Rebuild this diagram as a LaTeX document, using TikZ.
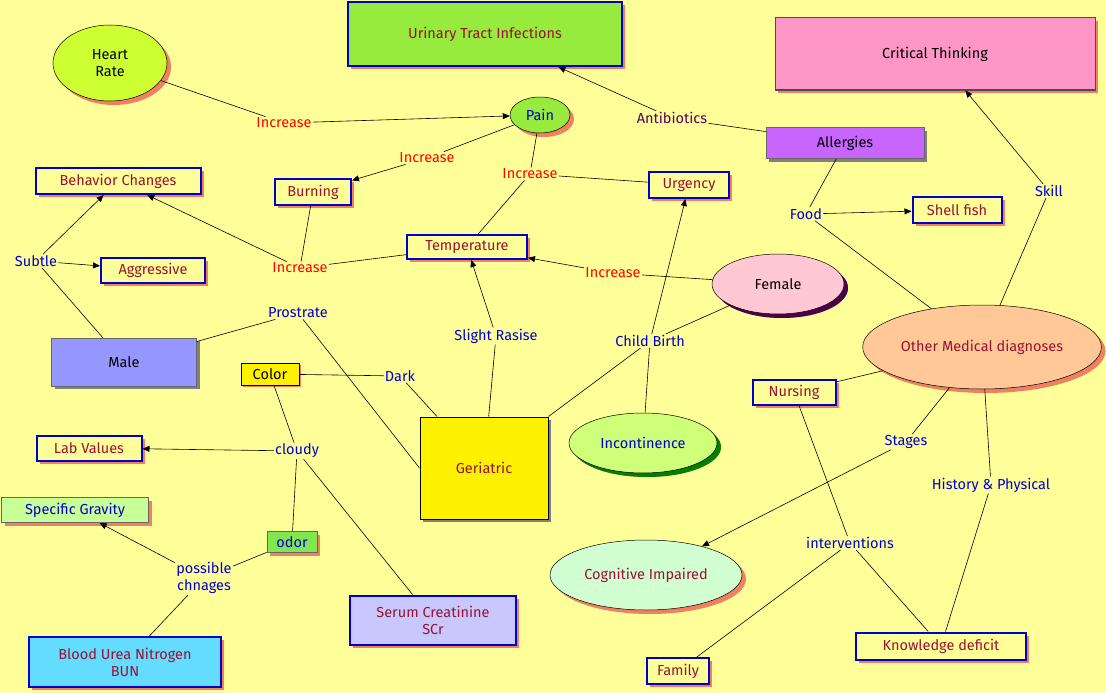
\documentclass[tikz,border=0pt]{standalone}
\usepackage{fontspec}
\setmainfont{Fira Sans}
\usetikzlibrary{shapes.geometric,shadows,arrows.meta}
\definecolor{bg}{HTML}{FFFF99}
\definecolor{dred}{HTML}{991133}
\definecolor{bblue}{HTML}{0000CC}
\definecolor{sal}{HTML}{F08060}
\begin{document}
\begin{tikzpicture}[x=1pt,y=-1pt,font=\fontsize{14.5}{17}\selectfont,
  box/.style={draw=bblue,line width=2pt,fill=bg,text=dred,inner sep=2pt,
    drop shadow={shadow xshift=3pt,shadow yshift=-3pt,fill=sal,opacity=1}},
  ell/.style={ellipse,draw=black,line width=0.5pt,
    drop shadow={shadow xshift=4pt,shadow yshift=-4pt,fill=sal,opacity=1}},
  bl/.style={text=bblue,fill=bg,inner sep=1pt},
  rd/.style={text=red,fill=bg,inner sep=1pt},
  ar/.style={-{Triangle[length=7pt,width=6pt]}},
  every path/.style={line width=0.6pt}]
\fill[bg] (0,0) rectangle (1106,693);
\useasboundingbox (0,0) rectangle (1106,693);
% nodes
\node[box,fill={rgb,255:red,150;green,235;blue,60},minimum width=274,minimum height=64] (uti) at (485,34) {Urinary Tract Infections};
\node[box,draw=black!70,fill={rgb,255:red,255;green,150;blue,200},text=black,minimum width=320,minimum height=72,line width=1pt] (ct) at (935,54) {Critical Thinking};
\node[ell,fill={rgb,255:red,205;green,255;blue,50},minimum width=114,minimum height=76,align=center] (hr) at (110,63) {Heart\\Rate};
\node[ell,fill={rgb,255:red,150;green,235;blue,60},text=bblue,minimum width=60,minimum height=36] (pain) at (540,115) {Pain};
\node[rd] (inc1) at (284,123) {Increase};
\node[text=violet!70!black,fill=bg,inner sep=1pt] (ab) at (672,118) {Antibiotics};
\node[draw=black!60,fill={rgb,255:red,200;green,100;blue,255},minimum width=158,minimum height=31,
  drop shadow={shadow xshift=3pt,shadow yshift=-3pt,fill=gray,opacity=1}] (all) at (845,143) {Allergies};
\node[rd] (inc2) at (427,158) {Increase};
\node[rd] (inc3) at (530,174) {Increase};
\node[box,minimum width=80,minimum height=26] (urg) at (689,185) {Urgency};
\node[box,minimum width=165,minimum height=26] (beh) at (118,181) {Behavior Changes};
\node[box,minimum width=76,minimum height=26] (burn) at (313,192) {Burning};
\node[bl] (food) at (806,214) {Food};
\node[box,minimum width=89,minimum height=26] (shell) at (957,210) {Shell fish};
\node[bl] (skill) at (1049,191) {Skill};
\node[box,minimum width=120,minimum height=24] (temp) at (467,247) {Temperature};
\node[bl] (subtle) at (36,261) {Subtle};
\node[box,minimum width=104,minimum height=25] (aggr) at (153,270) {Aggressive};
\node[rd] (inc4) at (300,268) {Increase};
\node[rd] (inc5) at (613,273) {Increase};
\node[ell,fill={rgb,255:red,255;green,200;blue,210},minimum width=132,minimum height=60,
  drop shadow={shadow xshift=4pt,shadow yshift=-4pt,fill=violet!60!black,opacity=1}] (fem) at (778,284) {Female};
\node[bl] (pros) at (298,313) {Prostrate};
\node[bl] (sr) at (496,336) {Slight Rasise};
\node[bl] (cb) at (650,341) {Child Birth};
\node[draw=black!60,fill={rgb,255:red,150;green,150;blue,255},minimum width=145,minimum height=48,
  drop shadow={shadow xshift=3pt,shadow yshift=-3pt,fill=gray,opacity=1}] (male) at (124,362) {Male};
\node[ell,fill={rgb,255:red,255;green,200;blue,150},text=dred,minimum width=236,minimum height=84] (omd) at (982,347) {Other Medical diagnoses};
\node[draw=black,fill=yellow,minimum width=58,minimum height=22,inner sep=1pt,
  drop shadow={shadow xshift=2pt,shadow yshift=-2pt,fill=sal,opacity=1}] (color) at (270,374) {Color};
\node[bl] (dark) at (400,376) {Dark};
\node[box,minimum width=83,minimum height=25] (nurs) at (794,392) {Nursing};
\node[bl] (stages) at (906,442) {Stages};
\node[box,minimum width=105,minimum height=25] (lab) at (89,448) {Lab Values};
\node[bl] (cloudy) at (297,451) {cloudy};
\node[draw=black,line width=1pt,fill=yellow,text=dred,minimum width=128,minimum height=102,
  drop shadow={shadow xshift=3pt,shadow yshift=-3pt,fill=gray,opacity=1}] (ger) at (484,468) {Geriatric};
\node[ell,fill={rgb,255:red,205;green,255;blue,120},text=bblue,minimum width=148,minimum height=60,
  drop shadow={shadow xshift=4pt,shadow yshift=-4pt,fill=green!50!black,opacity=1}] (inco) at (643,443) {Incontinence};
\node[bl] (hp) at (991,485) {History \& Physical};
\node[box,draw=black!60,line width=1pt,fill={rgb,255:red,200;green,255;blue,150},text=bblue,minimum width=147,minimum height=25] (sg) at (75,510) {Specific Gravity};
\node[box,draw=black!60,line width=1pt,fill={rgb,255:red,130;green,230;blue,80},text=bblue,minimum width=50,minimum height=21,inner sep=1pt] (odor) at (292,542) {odor};
\node[bl,align=center] (pc) at (204,578) {possible\\chnages};
\node[bl] (intv) at (850,543) {interventions};
\node[ell,fill={rgb,255:red,210;green,255;blue,210},text=dred,minimum width=192,minimum height=70] (cog) at (646,575) {Cognitive Impaired};
\node[box,fill={rgb,255:red,200;green,200;blue,255},minimum width=166,minimum height=49,align=center] (scr) at (433,620) {Serum Creatinine\\SCr};
\node[box,fill={rgb,255:red,100;green,220;blue,255},minimum width=192,minimum height=50,align=center] (bun) at (125,662) {Blood Urea Nitrogen\\BUN};
\node[box,minimum width=170,minimum height=27] (kd) at (941,646) {Knowledge deficit};
\node[box,minimum width=62,minimum height=26] (fam) at (678,671) {Family};
% edges
\draw (hr) -- (inc1); \draw[ar] (inc1) -- (pain);
\draw (pain) -- (inc2); \draw[ar] (inc2) -- (burn);
\draw (pain) -- (inc3); \draw (inc3) -- (temp); \draw (inc3) -- (urg);
\draw[ar] (ab) -- (uti); \draw (all) -- (ab);
\draw (all) -- (food); \draw[ar] (food) -- (shell); \draw (food) -- (omd);
\draw (omd) -- (skill); \draw[ar] (skill) -- (ct);
\draw[ar] (inc4) -- (beh); \draw (burn) -- (inc4); \draw (inc4) -- (temp);
\draw[ar] (subtle) -- (beh); \draw[ar] (subtle) -- (aggr); \draw (male) -- (subtle);
\draw (male) -- (pros); \draw (pros) -- (ger.west);
\draw (ger) -- (sr); \draw[ar] (sr) -- (temp);
\draw (fem) -- (inc5); \draw[ar] (inc5) -- (temp);
\draw (fem) -- (cb); \draw (cb) -- (ger.north east);
\draw (inco) -- (cb); \draw[ar] (cb) -- (urg);
\draw (color) -- (dark); \draw (dark) -- (ger);
\draw (color) -- (cloudy); \draw[ar] (cloudy) -- (lab); \draw (cloudy) -- (odor); \draw (cloudy) -- (scr);
\draw (odor) -- (pc); \draw[ar] (pc) -- (sg); \draw (pc) -- (bun);
\draw (omd) -- (nurs); \draw (nurs) -- (intv); \draw (intv) -- (kd); \draw (intv) -- (fam);
\draw (omd) -- (stages); \draw[ar] (stages) -- (cog);
\draw (omd) -- (hp); \draw (hp) -- (kd);
\end{tikzpicture}
\end{document}
